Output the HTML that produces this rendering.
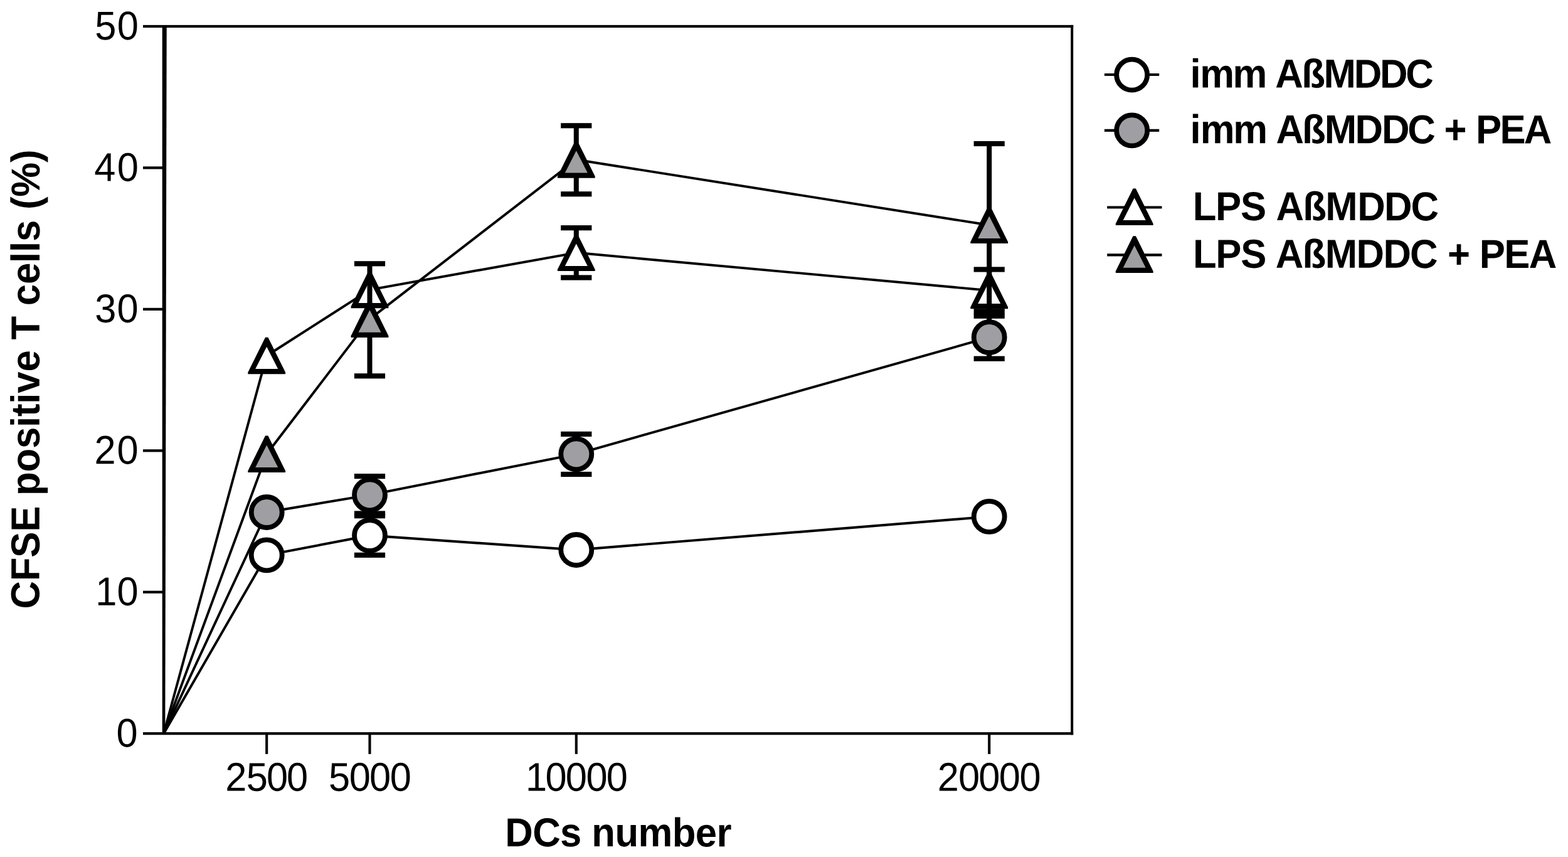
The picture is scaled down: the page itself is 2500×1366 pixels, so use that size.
<!DOCTYPE html>
<html lang="en">
<head>
<meta charset="utf-8">
<title>CFSE positive T cells vs DCs number</title>
<style>
html,body{margin:0;padding:0;background:#fff;}
body{width:2500px;height:1366px;overflow:hidden;}
svg{display:block;}
svg text{font-family:"Liberation Sans","DejaVu Sans",sans-serif;fill:#000;}
</style>
</head>
<body>
<svg width="2500" height="1366" viewBox="0 0 2500 1366">
<rect width="2500" height="1366" fill="#fff"/>
<g id="axes" fill="#000">
<rect x="228" y="39.90" width="1483.20" height="4.20"/>
<rect x="228" y="1167.10" width="1483.20" height="4.20"/>
<rect x="1707.2" y="39.90" width="4" height="1131.40"/>
<polygon points="258.7,40 265.7,40 263.3,1171 258.7,1171"/>
<rect x="228" y="941.66" width="32" height="4.20"/>
<rect x="228" y="716.22" width="32" height="4.20"/>
<rect x="228" y="490.78" width="32" height="4.20"/>
<rect x="228" y="265.34" width="32" height="4.20"/>
<rect x="423.15" y="1169.20" width="4.1" height="32.70"/>
<rect x="587.45" y="1169.20" width="4.1" height="32.70"/>
<rect x="916.75" y="1169.20" width="4.1" height="32.70"/>
<rect x="1575.15" y="1169.20" width="4.1" height="32.70"/>
</g>
<g id="oc">
<polyline points="261.00,1169.20 425.20,884.80 589.50,853.50 918.80,876.50 1577.20,823.40" fill="none" stroke="#000" stroke-width="3.90" stroke-linejoin="round"/>
<line x1="589.50" y1="822.20" x2="589.50" y2="884.80" stroke="#000" stroke-width="8.00"/><rect x="564.90" y="818.10" width="49.20" height="8.20" fill="#000"/><rect x="564.90" y="880.70" width="49.20" height="8.20" fill="#000"/>
<circle cx="425.20" cy="884.80" r="24.5" fill="#fff" stroke="#000" stroke-width="7.8"/>
<circle cx="589.50" cy="853.50" r="24.5" fill="#fff" stroke="#000" stroke-width="7.8"/>
<circle cx="918.80" cy="876.50" r="24.5" fill="#fff" stroke="#000" stroke-width="7.8"/>
<circle cx="1577.20" cy="823.40" r="24.5" fill="#fff" stroke="#000" stroke-width="7.8"/>
</g>
<g id="gc">
<polyline points="261.00,1169.20 425.20,816.50 589.50,788.80 918.80,723.80 1577.20,537.70" fill="none" stroke="#000" stroke-width="3.90" stroke-linejoin="round"/>
<line x1="589.50" y1="759.10" x2="589.50" y2="818.50" stroke="#000" stroke-width="8.00"/><rect x="564.90" y="755.00" width="49.20" height="8.20" fill="#000"/><rect x="564.90" y="814.40" width="49.20" height="8.20" fill="#000"/>
<line x1="918.80" y1="691.90" x2="918.80" y2="756.00" stroke="#000" stroke-width="8.00"/><rect x="894.20" y="687.80" width="49.20" height="8.20" fill="#000"/><rect x="894.20" y="751.90" width="49.20" height="8.20" fill="#000"/>
<line x1="1577.20" y1="503.70" x2="1577.20" y2="571.70" stroke="#000" stroke-width="8.00"/><rect x="1552.60" y="499.60" width="49.20" height="8.20" fill="#000"/><rect x="1552.60" y="567.60" width="49.20" height="8.20" fill="#000"/>
<circle cx="425.20" cy="816.50" r="24.5" fill="#9f9ea2" stroke="#000" stroke-width="7.8"/>
<circle cx="589.50" cy="788.80" r="24.5" fill="#9f9ea2" stroke="#000" stroke-width="7.8"/>
<circle cx="918.80" cy="723.80" r="24.5" fill="#9f9ea2" stroke="#000" stroke-width="7.8"/>
<circle cx="1577.20" cy="537.70" r="24.5" fill="#9f9ea2" stroke="#000" stroke-width="7.8"/>
</g>
<g id="ot">
<polyline points="261.00,1169.20 425.20,567.00 589.50,461.90 918.80,402.80 1577.20,463.00" fill="none" stroke="#000" stroke-width="3.90" stroke-linejoin="round"/>
<line x1="918.80" y1="363.20" x2="918.80" y2="442.50" stroke="#000" stroke-width="8.00"/><rect x="894.20" y="359.10" width="49.20" height="8.20" fill="#000"/><rect x="894.20" y="438.40" width="49.20" height="8.20" fill="#000"/>
<line x1="1577.20" y1="429.50" x2="1577.20" y2="496.50" stroke="#000" stroke-width="8.00"/><rect x="1552.60" y="425.40" width="49.20" height="8.20" fill="#000"/><rect x="1552.60" y="492.40" width="49.20" height="8.20" fill="#000"/>
<polygon points="423.00,537.70 427.40,537.70 455.10,593.60 455.10,596.30 395.30,596.30 395.30,593.60" fill="#000"/><polygon points="425.20,552.70 443.20,588.10 407.20,588.10" fill="#fff"/>
<polygon points="587.30,432.60 591.70,432.60 619.40,488.50 619.40,491.20 559.60,491.20 559.60,488.50" fill="#000"/><polygon points="589.50,447.60 607.50,483.00 571.50,483.00" fill="#fff"/>
<polygon points="916.60,373.50 921.00,373.50 948.70,429.40 948.70,432.10 888.90,432.10 888.90,429.40" fill="#000"/><polygon points="918.80,388.50 936.80,423.90 900.80,423.90" fill="#fff"/>
<polygon points="1575.00,433.70 1579.40,433.70 1607.10,489.60 1607.10,492.30 1547.30,492.30 1547.30,489.60" fill="#000"/><polygon points="1577.20,448.70 1595.20,484.10 1559.20,484.10" fill="#fff"/>
</g>
<g id="gt">
<polyline points="261.00,1169.20 425.20,723.80 589.50,508.60 918.80,254.50 1577.20,358.80" fill="none" stroke="#000" stroke-width="3.90" stroke-linejoin="round"/>
<line x1="589.50" y1="420.30" x2="589.50" y2="599.30" stroke="#000" stroke-width="8.00"/><rect x="564.90" y="416.20" width="49.20" height="8.20" fill="#000"/><rect x="564.90" y="595.20" width="49.20" height="8.20" fill="#000"/>
<line x1="918.80" y1="200.30" x2="918.80" y2="309.30" stroke="#000" stroke-width="8.00"/><rect x="894.20" y="196.20" width="49.20" height="8.20" fill="#000"/><rect x="894.20" y="305.20" width="49.20" height="8.20" fill="#000"/>
<line x1="1577.20" y1="229.00" x2="1577.20" y2="488.60" stroke="#000" stroke-width="8.00"/><rect x="1552.60" y="224.90" width="49.20" height="8.20" fill="#000"/><rect x="1552.60" y="484.50" width="49.20" height="8.20" fill="#000"/>
<polygon points="423.00,694.50 427.40,694.50 455.10,750.40 455.10,753.10 395.30,753.10 395.30,750.40" fill="#000"/><polygon points="425.20,709.50 443.20,744.90 407.20,744.90" fill="#9f9ea2"/>
<polygon points="587.30,479.30 591.70,479.30 619.40,535.20 619.40,537.90 559.60,537.90 559.60,535.20" fill="#000"/><polygon points="589.50,494.30 607.50,529.70 571.50,529.70" fill="#9f9ea2"/>
<polygon points="916.60,225.20 921.00,225.20 948.70,281.10 948.70,283.80 888.90,283.80 888.90,281.10" fill="#000"/><polygon points="918.80,240.20 936.80,275.60 900.80,275.60" fill="#9f9ea2"/>
<polygon points="1575.00,329.50 1579.40,329.50 1607.10,385.40 1607.10,388.10 1547.30,388.10 1547.30,385.40" fill="#000"/><polygon points="1577.20,344.50 1595.20,379.90 1559.20,379.90" fill="#9f9ea2"/>
</g>
<g id="legend">
<line x1="1760.90" y1="119.00" x2="1848.20" y2="119.00" stroke="#000" stroke-width="4.2"/>
<circle cx="1804.70" cy="119.20" r="24.5" fill="#fff" stroke="#000" stroke-width="7.8"/>
<line x1="1760.90" y1="207.90" x2="1848.20" y2="207.90" stroke="#000" stroke-width="4.2"/>
<circle cx="1804.70" cy="207.90" r="24.5" fill="#9f9ea2" stroke="#000" stroke-width="7.8"/>
<line x1="1765.20" y1="330.50" x2="1852.50" y2="330.50" stroke="#000" stroke-width="4.2"/>
<polygon points="1806.50,300.50 1810.90,300.50 1838.60,356.40 1838.60,359.10 1778.80,359.10 1778.80,356.40" fill="#000"/><polygon points="1808.70,315.50 1826.70,350.90 1790.70,350.90" fill="#fff"/>
<line x1="1765.20" y1="406.40" x2="1852.50" y2="406.40" stroke="#000" stroke-width="4.2"/>
<polygon points="1806.50,376.30 1810.90,376.30 1838.60,432.20 1838.60,434.90 1778.80,434.90 1778.80,432.20" fill="#000"/><polygon points="1808.70,391.30 1826.70,426.70 1790.70,426.70" fill="#9f9ea2"/>
</g>
<g id="labels">
<text transform="translate(1897.62,139.50) rotate(0.03) scale(0.9570,1)" font-size="64.40" font-weight="700" x="0.00 16.23 71.07 128.33 141.77 185.66 222.43 272.82 316.05 359.05">imm AßMDDC</text>
<text transform="translate(1897.57,228.20) rotate(0.03) scale(0.9570,1)" font-size="64.40" font-weight="700" x="0.00 16.84 71.80 129.06 142.97 186.45 223.68 274.67 319.08 362.23 408.74 423.03 460.64 475.83 516.06 556.19">imm AßMDDC + PEA</text>
<text transform="translate(1901.81,351.00) rotate(0.03) scale(0.9570,1)" font-size="64.40" font-weight="700" x="0.00 37.80 79.62 122.58 138.53 183.26 221.02 274.21 319.03 363.23">LPS AßMDDC</text>
<text transform="translate(1902.06,426.70) rotate(0.03) scale(0.9570,1)" font-size="64.40" font-weight="700" x="0.00 37.90 79.52 122.47 137.65 182.38 220.13 272.17 317.15 361.51 408.01 424.19 461.79 477.19 518.37 559.69">LPS AßMDDC + PEA</text>
<text transform="translate(359.19,1260.40) rotate(0.03) scale(0.9570,1)" font-size="64.10" font-weight="400" x="0.00 35.02 68.70 102.09">2500</text>
<text transform="translate(523.95,1260.40) rotate(0.03) scale(0.9570,1)" font-size="64.10" font-weight="400" x="0.00 34.16 68.01 102.08">5000</text>
<text transform="translate(838.03,1260.40) rotate(0.03) scale(0.9570,1)" font-size="64.10" font-weight="400" x="0.00 32.93 66.47 100.75 134.60">10000</text>
<text transform="translate(1494.74,1260.40) rotate(0.03) scale(0.9570,1)" font-size="64.10" font-weight="400" x="0.00 34.69 68.44 102.40 136.57">20000</text>
<text transform="translate(185.52,1190.15) rotate(0.03) scale(0.9570,1)" font-size="64.10" font-weight="400" x="0.00">0</text>
<text transform="translate(152.33,964.71) rotate(0.03) scale(0.9570,1)" font-size="64.10" font-weight="400" x="0.00 35.70">10</text>
<text transform="translate(150.54,739.27) rotate(0.03) scale(0.9570,1)" font-size="64.10" font-weight="400" x="0.00 37.57">20</text>
<text transform="translate(151.22,513.83) rotate(0.03) scale(0.9570,1)" font-size="64.10" font-weight="400" x="0.00 36.99">30</text>
<text transform="translate(150.16,288.39) rotate(0.03) scale(0.9570,1)" font-size="64.10" font-weight="400" x="0.00 38.25">40</text>
<text transform="translate(151.20,62.95) rotate(0.03) scale(0.9570,1)" font-size="64.10" font-weight="400" x="0.00 37.16">50</text>
<text transform="translate(805.23,1349.00) rotate(0.03) scale(0.9570,1)" font-size="64.40" font-weight="700" letter-spacing="-0.590">DCs number</text>
<text transform="translate(62.60,970.50) rotate(-89.97) scale(0.9570,1)" font-size="64.40" font-weight="700" letter-spacing="-0.185">CFSE positive T cells (%)</text>
</g>
</svg>
</body>
</html>
